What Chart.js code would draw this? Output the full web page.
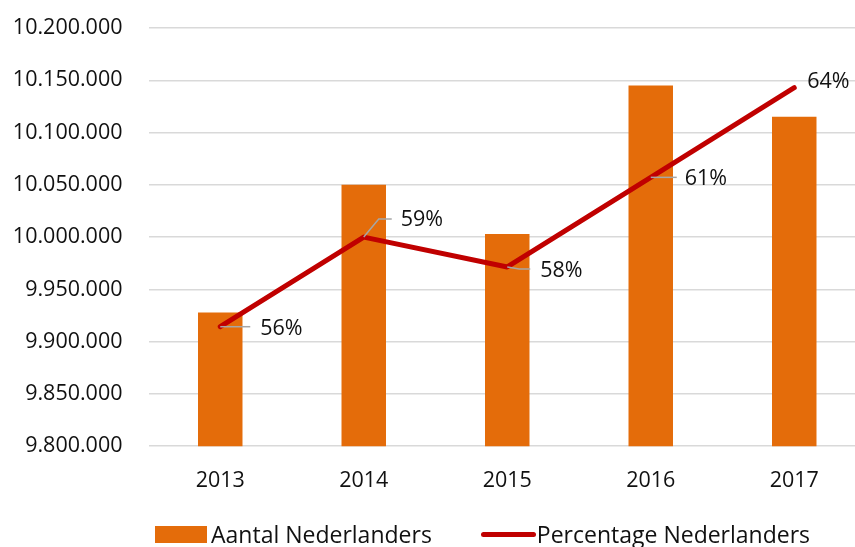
<!DOCTYPE html>
<html>
<head>
<meta charset="utf-8">
<script src="https://cdn.jsdelivr.net/npm/chart.js@4"></script>
<style>
  html, body { margin: 0; padding: 0; background: #fff; overflow: hidden; }
  #wrap { position: relative; width: 855px; height: 547px; overflow: hidden; }
  #chart { position: absolute; left: 0; top: 0; }
  #legend {
    position: absolute; left: 155px; top: 518px;
    display: flex; align-items: center;
    font-family: "Open Sans", sans-serif; font-size: 23px; color: #111;
    white-space: nowrap;
  }
  .item { display: flex; align-items: center; }
  .swatch { display: inline-block; margin-right: 4px; }
</style>
</head>
<body>
<div id="wrap">
  <canvas id="chart" width="868" height="524"></canvas>
  <div id="legend"></div>
</div>
<script>
// Data
const years = ["2013", "2014", "2015", "2016", "2017"];
const aantal = [9928000, 10050000, 10003000, 10145000, 10115000];
const percentage = [56, 59, 58, 61, 64];

// Label placement relative to each line point (text offset + leader path)
const labelOffsets = [
  { dx: 40, dy: 2, leader: [[0, 0], [30, 0]] },
  { dx: 37, dy: -17, leader: [[0, 0], [15, -18], [28, -18]] },
  { dx: 33, dy: 4, leader: [[0, 0], [12, 2], [23, 2]] },
  { dx: 34, dy: 2, leader: [[0, 0], [26, 0]] },
  { dx: 13, dy: -6, leader: null },
];

const fmt = (v) => String(v).replace(/\B(?=(\d{3})+(?!\d))/g, ".");
const font = "'Open Sans', sans-serif";

// Draws the percentage labels next to the line points
const pointLabels = {
  id: "pointLabels",
  afterDatasetsDraw(chart) {
    const meta = chart.getDatasetMeta(1);
    const ctx = chart.ctx;
    ctx.save();
    meta.data.forEach((pt, i) => {
      const o = labelOffsets[i];
      if (o.leader) {
        ctx.strokeStyle = "#A6A6A6";
        ctx.lineWidth = 1.5;
        ctx.beginPath();
        o.leader.forEach(([lx, ly], j) => {
          if (j === 0) ctx.moveTo(pt.x + lx, pt.y + ly);
          else ctx.lineTo(pt.x + lx, pt.y + ly);
        });
        ctx.stroke();
      }
      ctx.fillStyle = "#111";
      ctx.font = "21.5px " + font;
      ctx.textAlign = "left";
      ctx.textBaseline = "middle";
      ctx.fillText(percentage[i] + "%", pt.x + o.dx, pt.y + o.dy);
    });
    ctx.restore();
  },
};

const chart = new Chart(document.getElementById("chart"), {
  type: "bar",
  data: {
    labels: years,
    datasets: [
      {
        type: "bar",
        label: "Aantal Nederlanders",
        data: aantal,
        backgroundColor: "#E46C0A",
        barPercentage: 0.31,
        categoryPercentage: 1,
        yAxisID: "y",
        order: 2,
      },
      {
        type: "line",
        label: "Percentage Nederlanders",
        data: percentage,
        borderColor: "#C00000",
        backgroundColor: "#C00000",
        borderWidth: 5,
        borderCapStyle: "round",
        borderJoinStyle: "round",
        pointRadius: 0,
        tension: 0,
        yAxisID: "y1",
        order: 1,
      },
    ],
  },
  options: {
    responsive: false,
    animation: false,
    layout: { padding: { top: 28, right: 2, bottom: 8, left: 0 } },
    plugins: {
      legend: { display: false },
      tooltip: { enabled: false },
    },
    scales: {
      x: {
        grid: { display: false, drawTicks: false },
        border: { display: false },
        ticks: { color: "#111", font: { family: font, size: 21.5 }, padding: 22 },
      },
      y: {
        min: 9800000,
        max: 10200000,
        afterFit: (scale) => {
          scale.width = 148.5;
          scale.paddingTop = 0;
          scale.paddingBottom = 0;
        },
        grid: { color: "#D9D9D9", lineWidth: 1.5, drawTicks: false },
        border: { display: false },
        ticks: {
          stepSize: 50000,
          color: "#111",
          font: { family: font, size: 21.5 },
          padding: 26,
          callback: (v) => fmt(v),
        },
      },
      y1: {
        display: false,
        min: 52,
        max: 66,
      },
    },
  },
  plugins: [pointLabels],
});

// HTML legend built from the datasets
const legend = document.getElementById("legend");
chart.data.datasets.forEach((ds, i) => {
  const item = document.createElement("span");
  item.className = "item";
  if (i > 0) item.style.marginLeft = "49px";
  const sw = document.createElement("span");
  sw.className = "swatch";
  if (ds.type === "bar") {
    sw.style.width = "52px";
    sw.style.height = "17px";
    sw.style.background = ds.backgroundColor;
  } else {
    sw.style.width = "55px";
    sw.style.height = "5px";
    sw.style.borderRadius = "3px";
    sw.style.background = ds.borderColor;
    sw.style.marginRight = "1px";
  }
  const txt = document.createElement("span");
  txt.textContent = ds.label;
  item.appendChild(sw);
  item.appendChild(txt);
  legend.appendChild(item);
});
</script>
</body>
</html>
